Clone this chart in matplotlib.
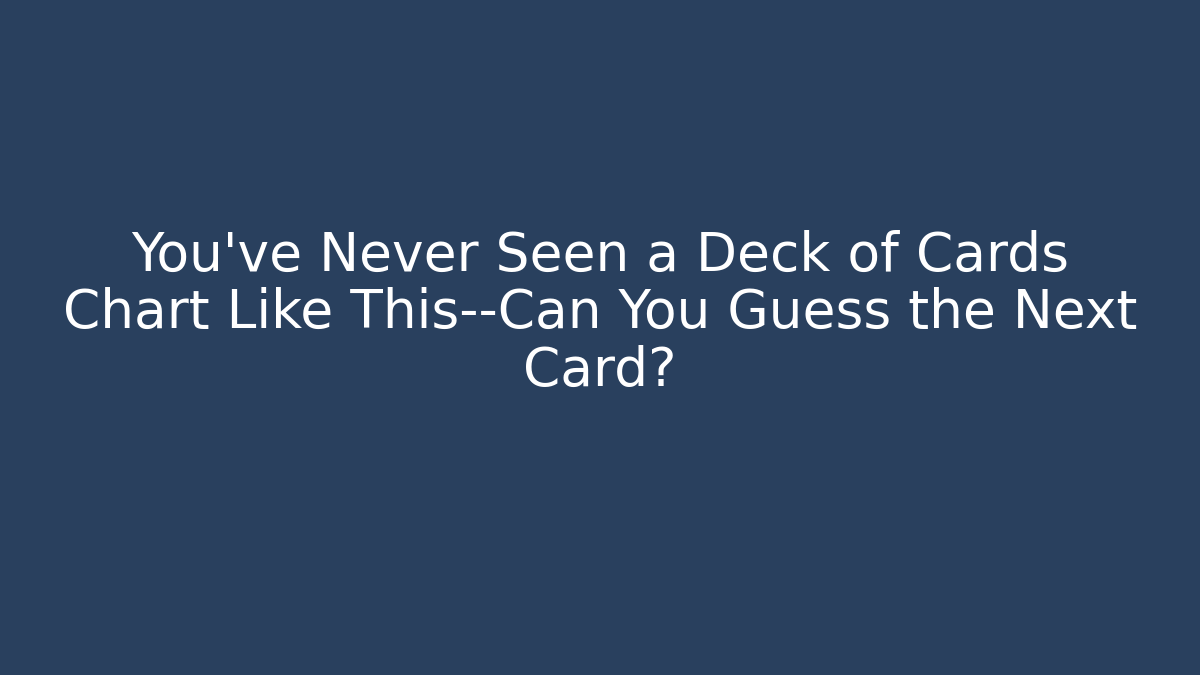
import matplotlib
matplotlib.use("Agg")
import matplotlib.pyplot as plt

# title card text and colours
title_lines = [
    "You've Never Seen a Deck of Cards",
    "Chart Like This--Can You Guess the Next",
    "Card?",
]
background = "#29405e"
text_colour = "white"

fig = plt.figure(figsize=(12, 6.75), dpi=100)
fig.patch.set_facecolor(background)

fig.text(0.5, 0.536, "\n".join(title_lines), ha="center", va="center",
         fontsize=38.4, color=text_colour, family="DejaVu Sans",
         linespacing=1.13)

fig.savefig("out.png", dpi=100, facecolor=background)
